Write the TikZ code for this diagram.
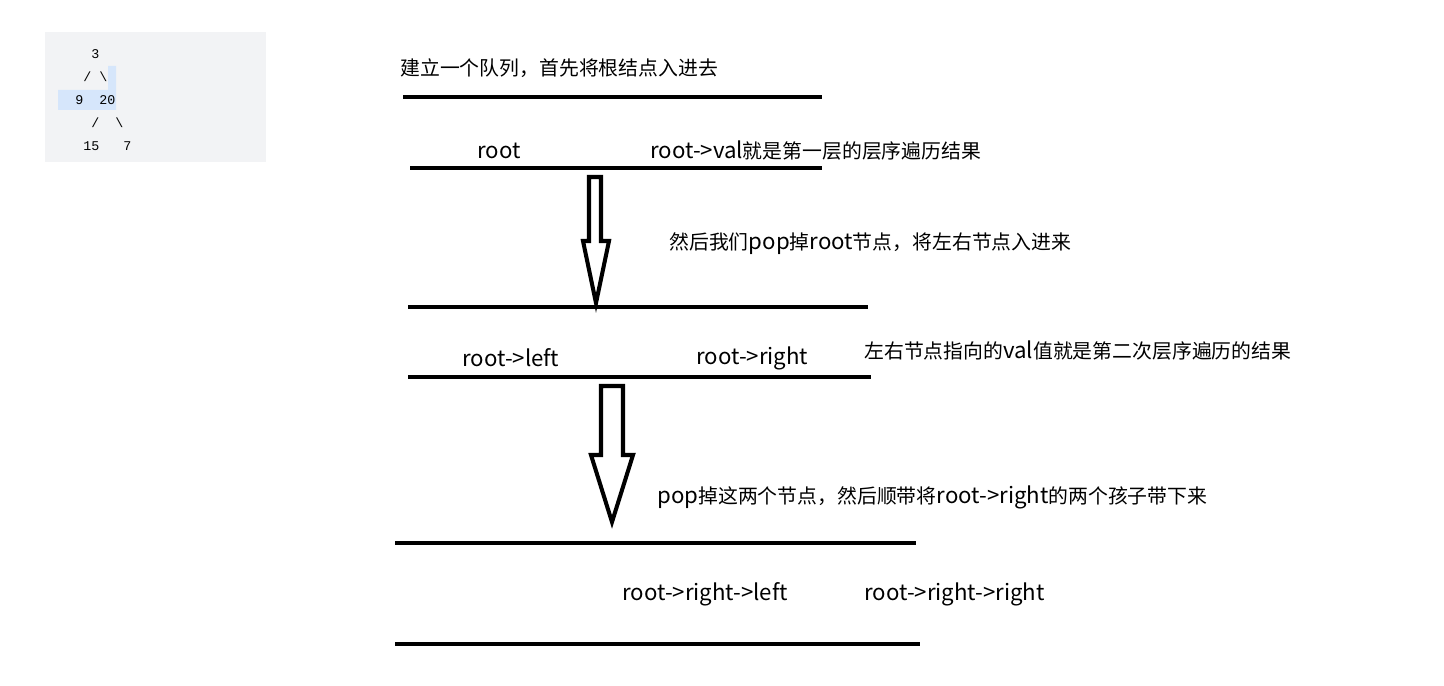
\documentclass[tikz,border=0pt]{standalone}
\usepackage{fontspec}
\setmainfont{Noto Sans CJK SC}
\setmonofont{Liberation Mono}
\newfontfamily\latinfont{Noto Sans CJK SC}[Scale=1.12]
\usepackage{tikz}

\definecolor{codebg}{HTML}{F2F3F5}
\definecolor{codehl}{HTML}{D6E6FB}

\newcommand{\lt}[1]{{\latinfont #1}}

\tikzset{
  qline/.style={line width=2.3pt},
  bigarrow/.style={line width=2.3pt, line join=miter, fill=white},
  note/.style={anchor=west, inner sep=0pt, font=\fontsize{11.3}{13}\selectfont},
  treerow/.style={anchor=west, inner sep=0pt, font=\ttfamily\fontsize{7.6}{9}\selectfont},
}

\begin{document}
\begin{tikzpicture}[x=0.02cm, y=-0.02cm]
        \useasboundingbox [fill=white] (0,0) rectangle (1444,686);

        % tree in the code box
        \fill [codebg] (45,32) rectangle (266,162);
        \fill [codehl] (58,90) -- (108,90) -- (108,66) -- (116,66) -- (116,110) -- (58,110) -- cycle;
        \node [treerow] (rowa) at (59,54)  {\ \ \ \ 3};
        \node [treerow] (rowb) at (59,77)  {\ \ \ /\ \textbackslash};
        \node [treerow] (rowc) at (59,100) {\ \ 9\ \ 20};
        \node [treerow] (rowd) at (59,123) {\ \ \ \ /\ \ \textbackslash};
        \node [treerow] (rowe) at (59,146) {\ \ \ 15\ \ \ 7};

        % queue, first level
        \node [note] (start) at (400,68) {建立一个队列，首先将根结点入进去};
        \draw [qline] (403,97)  -- (822,97);                         %
        \node [note] (root)  at (477,151) {\lt{root}};
        \node [note] (lvla)  at (650,151) {\lt{root->val}就是第一层的层序遍历结果};
        \draw [qline] (410,168) -- (822,168);                        %

        % pop root
        \draw [bigarrow] (589,177) -- (601,177) -- (601,241) -- (609,241)
                         -- (596,303) -- (583,241) -- (589,241) -- cycle;
        \node [note] (popa)  at (669,244) {然后我们\lt{pop}掉\lt{root}节点，将左右节点入进来};

        % queue, second level
        \draw [qline] (408,307) -- (868,307);                        %
        \node [note] (left)  at (462,358) {\lt{root->left}};
        \node [note] (right) at (696,358) {\lt{root->right}};
        \node [note] (lvlb)  at (864,351) {左右节点指向的\lt{val}值就是第二次层序遍历的结果};
        \draw [qline] (408,377) -- (871,377);                        %

        % pop both
        \draw [bigarrow] (601,386) -- (623,386) -- (623,455) -- (633,455)
                         -- (612,522) -- (591,455) -- (601,455) -- cycle;
        \node [note] (popb)  at (657,497) {\lt{pop}掉这两个节点，然后顺带将\lt{root->right}的两个孩子带下来};

        % queue, third level
        \draw [qline] (395,543) -- (916,543);                        %
        \node [note] (rl)    at (622,594) {\lt{root->right->left}};
        \node [note] (rr)    at (864,594) {\lt{root->right->right}};
        \draw [qline] (395,644) -- (920,644);                        %
\end{tikzpicture}
\end{document}
